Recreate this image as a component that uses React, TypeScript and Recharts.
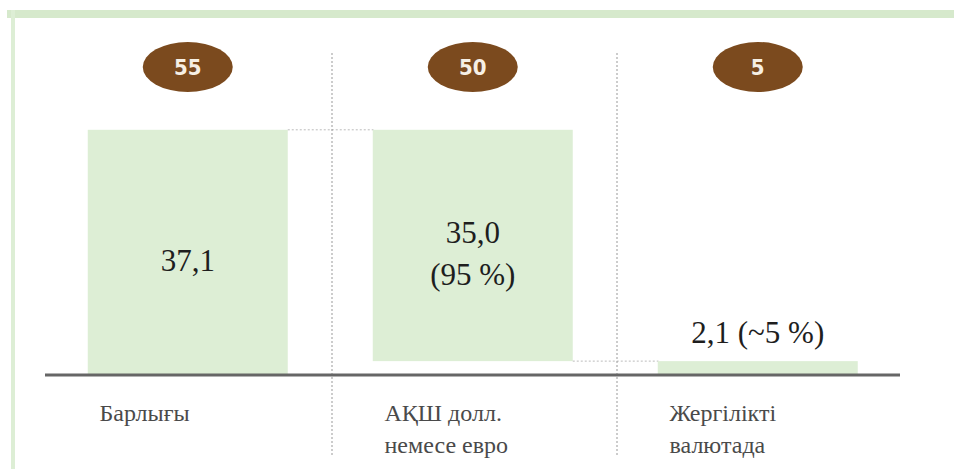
import { BarChart, Bar, XAxis, YAxis, LabelList, ReferenceLine } from 'recharts';

const categories = ['Барлығы', 'АҚШ долл.\nнемесе евро', 'Жергілікті\nвалютада'];
const baseValues = [0, 2.1, 0];
const barValues = [37.1, 35.0, 2.1];
const counts = [55, 50, 5];
const valueLabels = [['37,1'], ['35,0', '(95 %)'], ['2,1 (~5 %)']];

const data = categories.map((name, i) => ({
  name,
  base: baseValues[i],
  value: barValues[i],
  count: counts[i],
}));

const BAR_FILL = '#ddeed5';
const OVAL_Y = 67;
const PLOT_TOP = 30;
const PLOT_BOTTOM = 375;
const SERIF = '"Liberation Serif", "DejaVu Serif", serif';

// bar plus dotted connector to the next step of the waterfall
function StepBar(props: any) {
  const { x, y, width, height, index } = props;
  const gap = (width * 0.3) / 0.7;
  let connector = null;
  if (index === 0) {
    connector = <line x1={x + width} y1={y} x2={x + width + gap} y2={y} stroke="#bbb" strokeDasharray="2 2" />;
  } else if (index === 1) {
    connector = <line x1={x + width} y1={y + height} x2={x + width + gap} y2={y + height} stroke="#bbb" strokeDasharray="2 2" />;
  }
  return (
    <g>
      <rect x={x} y={y} width={width} height={height} fill={BAR_FILL} />
      {connector}
    </g>
  );
}

function CountOval(props: any) {
  const { x, width, value } = props;
  const cx = x + width / 2;
  return (
    <g>
      <ellipse cx={cx} cy={OVAL_Y} rx={45} ry={25} fill="#7b4a1e" />
      <text x={cx} y={OVAL_Y + 8} textAnchor="middle" fill="#f6efe4" fontSize={22} fontWeight="bold"
        fontFamily='"DejaVu Sans Condensed", "DejaVu Sans", sans-serif'>
        {value}
      </text>
    </g>
  );
}

function ValueText(props: any) {
  const { x, y, width, height, index } = props;
  const lines: string[] = valueLabels[index];
  const cx = x + width / 2;
  if (index === 2) {
    return (
      <text x={cx} y={y - 18} textAnchor="middle" fill="#1e1e1e" fontSize={31} fontFamily={SERIF}>
        {lines[0]}
      </text>
    );
  }
  const mid = y + height / 2 + 8;
  const lh = 42;
  const start = mid - ((lines.length - 1) * lh) / 2;
  return (
    <text textAnchor="middle" fill="#1e1e1e" fontSize={31} fontFamily={SERIF}>
      {lines.map((l, i) => (
        <tspan key={i} x={cx} y={start + i * lh + 11}>{l}</tspan>
      ))}
    </text>
  );
}

function CategoryTick(props: any) {
  const { x, y, payload } = props;
  const lines = String(payload.value).split('\n');
  return (
    <text textAnchor="start" fill="#4a4a4a" fontSize={24} fontFamily={SERIF}>
      {lines.map((l, i) => (
        <tspan key={i} x={x - 88} y={y + 38 + i * 32}>{l}</tspan>
      ))}
    </text>
  );
}

function Separator(props: any) {
  const { x1, x2 } = props;
  return <line x1={x1 + 2} y1={PLOT_TOP + 23} x2={x2 + 2} y2={PLOT_BOTTOM + 80} stroke="#999" strokeDasharray="2 2" />;
}

export default function App() {
  return (
    <div style={{ position: 'absolute', left: 0, top: 0, width: 954, height: 469, background: '#fff' }}>
      <div style={{ position: 'absolute', left: 7, top: 10, right: 0, height: 8, background: '#d6e9cc' }} />
      <div style={{ position: 'absolute', left: 11, top: 10, width: 4, bottom: 0, background: '#ddeed5' }} />
      <div style={{ position: 'absolute', left: 0, top: 0 }}>
        <BarChart width={954} height={469} data={data} barCategoryGap="15%"
          margin={{ top: PLOT_TOP, right: 54, bottom: 14, left: 45 }}>
          <XAxis dataKey="name" height={80} tickLine={false} interval={0}
            axisLine={{ stroke: '#666', strokeWidth: 3 }} tick={<CategoryTick />} />
          <YAxis hide domain={[0, 52.2]} />
          <ReferenceLine x={categories[0]} position="end" shape={<Separator />} />
          <ReferenceLine x={categories[1]} position="end" shape={<Separator />} />
          <Bar dataKey="base" stackId="a" fill="transparent" isAnimationActive={false} />
          <Bar dataKey="value" stackId="a" fill={BAR_FILL} shape={<StepBar />} isAnimationActive={false}>
            <LabelList dataKey="count" content={<CountOval />} />
            <LabelList dataKey="value" content={<ValueText />} />
          </Bar>
        </BarChart>
      </div>
    </div>
  );
}
